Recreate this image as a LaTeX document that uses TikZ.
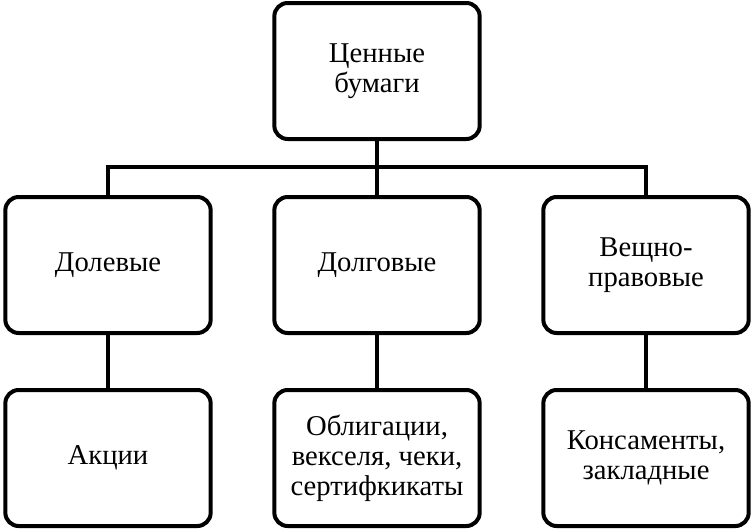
\documentclass[tikz,border=0pt]{standalone}
\usepackage{fontspec}
\setmainfont{Liberation Serif}
\usetikzlibrary{positioning}

\tikzset{
  card/.style={draw, line width=3pt, rounded corners=10pt, fill=white,
    minimum width=154pt, minimum height=102pt, align=center,
    font=\fontsize{21.5}{22.5}\selectfont, inner sep=2pt},
  link/.style={line width=2.4pt}
}

\begin{document}
\begin{tikzpicture}[x=0.75pt, y=-0.75pt]
            \useasboundingbox (0,0) rectangle (756,529);

            % Root
            \node[card] (root) at (377,71) {Ценные\\бумаги};

            % Kinds
            \node[card] (share) at (108,265) {Долевые};
            \node[card] (debt) at (377,265) {Долговые};
            \node[card] (prop) at (646,265) {Вещно-\\правовые};

            % Examples
            \node[card] (stock) at (108,458) {Акции};
            \node[card] (bond) at (377,458) {Облигации,\\векселя, чеки,\\сертифкикаты};
            \node[card] (lading) at (646,458) {Консаменты,\\закладные};

            % Tree links
            \coordinate (fork) at (377,167);
            \draw[link] (root.south) -- (fork);
            \draw[link] (share.north) |- (fork) -| (prop.north);
            \draw[link] (fork) -- (debt.north);

            % Kind to example
            \draw[link] (share) -- (stock);
            \draw[link] (debt) -- (bond);
            \draw[link] (prop) -- (lading);
        \end{tikzpicture}
\end{document}
